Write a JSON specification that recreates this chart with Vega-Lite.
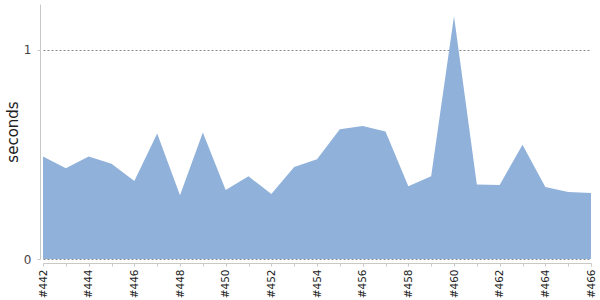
{
  "$schema": "https://vega.github.io/schema/vega-lite/v6.json",
  "autosize": "none",
  "width": 548,
  "height": 255,
  "padding": {"left": 43, "top": 4, "right": 9, "bottom": 41},
  "background": "white",
  "config": {"view": {"stroke": null}, "font": "DejaVu Sans"},
  "data": {"values": [
    {"build": "#442", "seconds": 0.490},
    {"build": "#443", "seconds": 0.434},
    {"build": "#444", "seconds": 0.490},
    {"build": "#445", "seconds": 0.455},
    {"build": "#446", "seconds": 0.372},
    {"build": "#447", "seconds": 0.599},
    {"build": "#448", "seconds": 0.304},
    {"build": "#449", "seconds": 0.604},
    {"build": "#450", "seconds": 0.330},
    {"build": "#451", "seconds": 0.395},
    {"build": "#452", "seconds": 0.310},
    {"build": "#453", "seconds": 0.439},
    {"build": "#454", "seconds": 0.476},
    {"build": "#455", "seconds": 0.620},
    {"build": "#456", "seconds": 0.635},
    {"build": "#457", "seconds": 0.609},
    {"build": "#458", "seconds": 0.348},
    {"build": "#459", "seconds": 0.395},
    {"build": "#460", "seconds": 1.160},
    {"build": "#461", "seconds": 0.356},
    {"build": "#462", "seconds": 0.353},
    {"build": "#463", "seconds": 0.546},
    {"build": "#464", "seconds": 0.344},
    {"build": "#465", "seconds": 0.320},
    {"build": "#466", "seconds": 0.315}
  ]},
  "mark": {"type": "area", "color": "#8fb1da", "opacity": 1},
  "encoding": {
    "x": {
      "field": "build", "type": "ordinal",
      "scale": {"type": "point", "padding": 0},
      "axis": {
        "title": null, "offset": 4, "labelAngle": -90, "labelFontSize": 10.5,
        "labelColor": "#222", "labelPadding": 3,
        "labelExpr": "parseInt(substring(datum.value, 1)) % 2 == 0 ? datum.value : ''",
        "labelOverlap": false,
        "domainColor": "#c8c8c8", "tickColor": "#c8c8c8", "tickSize": 3,
        "grid": false
      }
    },
    "y": {
      "field": "seconds", "type": "quantitative",
      "scale": {"domain": [0, 1.218], "nice": false},
      "axis": {
        "title": "seconds", "titleFontSize": 15, "titleFontWeight": "normal",
        "titleColor": "#222", "titlePadding": 3, "format": "d",
        "values": [0, 1], "offset": 3, "labelFontSize": 12, "labelColor": "#444",
        "labelPadding": 6,
        "domainColor": "#c8c8c8", "tickColor": "#c8c8c8", "tickSize": 3,
        "grid": true, "gridColor": "#888", "gridDash": [2, 2], "gridWidth": 1
      }
    }
  }
}
